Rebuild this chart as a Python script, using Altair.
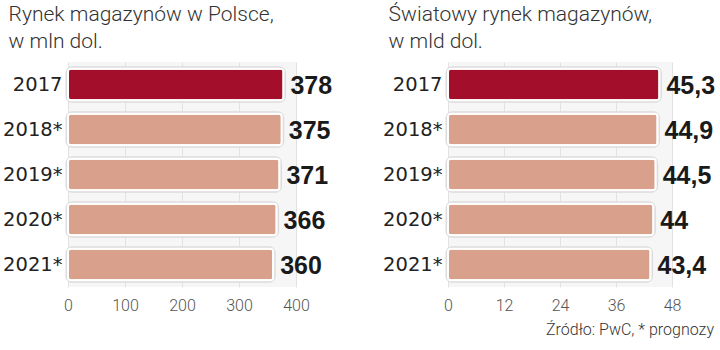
import altair as alt
import pandas as pd

years = ["2017", "2018*", "2019*", "2020*", "2021*"]
pl_values = [378, 375, 371, 366, 360]
pl_labels = ["378", "375", "371", "366", "360"]
world_values = [45.3, 44.9, 44.5, 44.0, 43.4]
world_labels = ["45,3", "44,9", "44,5", "44", "43,4"]
kind = ["actual", "forecast", "forecast", "forecast", "forecast"]

pl_df = pd.DataFrame({"year": years, "value": pl_values, "label": pl_labels, "kind": kind})
w_df = pd.DataFrame({"year": years, "value": world_values, "label": world_labels, "kind": kind})

TITLE_FONT = "Roboto"
LABEL_FONT = "DejaVu Sans"
NUM_FONT = "Liberation Sans"
color = alt.Color("kind:N", scale=alt.Scale(domain=["actual", "forecast"], range=["#a30f2b", "#d9a18b"]), legend=None)


def panel(df, domain_max, ticks, title_lines, w, h):
    y = alt.Y("year:N", sort=years, title=None,
              scale=alt.Scale(paddingInner=0.3, paddingOuter=0.15),
              axis=alt.Axis(labelFont=LABEL_FONT, labelFontSize=19.5, labelColor="#222222",
                            labelPadding=6, ticks=False, domain=False, grid=False))
    x = alt.X("value:Q", title=None, scale=alt.Scale(domain=[0, domain_max], nice=False),
              axis=alt.Axis(values=ticks, labelFont=TITLE_FONT, labelFontSize=16, labelFontWeight=300,
                            labelColor="#555555", labelPadding=10, ticks=False, domain=False,
                            grid=True, gridColor="#e2e2e2", gridWidth=1, labelFlush=False))
    base = alt.Chart(df)
    shadow = base.mark_bar(cornerRadius=4, stroke="#dcdcdc", strokeWidth=5, fill="#dcdcdc").encode(x=x, y=y)
    bars = base.mark_bar(cornerRadius=3, stroke="white", strokeWidth=2).encode(x=x, y=y, color=color)
    text = base.mark_text(align="left", baseline="middle", dx=7, dy=1, font=NUM_FONT,
                          fontWeight="bold", fontSize=25, color="#1a1a1a").encode(
        x=x, y=y, text="label:N")
    return alt.layer(shadow, bars, text).properties(
        width=w, height=h,
        title=alt.TitleParams(text=title_lines, anchor="start", frame="bounds", font=TITLE_FONT,
                              fontSize=21, fontWeight=300, color="#333333", lineHeight=27,
                              offset=10, dx=6))


left = panel(pl_df, 400, [0, 100, 200, 300, 400], ["Rynek magazynów w Polsce,", "w mln dol."], 228, 225)
right_main = panel(w_df, 48, [0, 12, 24, 36, 48], ["Światowy rynek magazynów,", "w mld dol."], 224, 225)

source = alt.Chart(pd.DataFrame({"t": ["Źródło: PwC, * prognozy"]})).mark_text(
    align="right", baseline="middle", font=TITLE_FONT, fontSize=16, fontWeight=300, color="#333333"
).encode(x=alt.value(266), y=alt.value(268), text="t:N")

right = alt.layer(right_main, source)

chart = alt.hconcat(left, right, spacing=49).properties(
    padding={"left": 2, "top": 4, "right": 2, "bottom": 2}
).configure_view(fill="#f6f6f6", stroke=None).configure_concat(spacing=49)

chart.save("out.html", embed_options={"renderer": "svg", "actions": False})
